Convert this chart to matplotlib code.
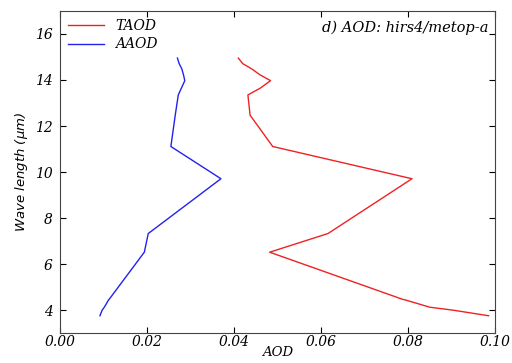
import matplotlib
matplotlib.use('Agg')
import matplotlib.pyplot as plt

# HIRS-4 channel wavelengths (um) and AOD values
wavelength = [14.95, 14.71, 14.49, 14.22, 13.97, 13.64, 13.35, 12.47, 11.11,
              9.71, 7.33, 6.52, 4.57, 4.52, 4.47, 4.45, 4.13, 4.00, 3.76]
taod = [0.0410, 0.0420, 0.0440, 0.0460, 0.0484, 0.0460, 0.0432, 0.0437, 0.0489,
        0.0809, 0.0616, 0.0482, 0.0773, 0.0780, 0.0788, 0.0793, 0.0850, 0.0904, 0.0985]
aaod = [0.0270, 0.0274, 0.0280, 0.0284, 0.0287, 0.0279, 0.0272, 0.0265, 0.0255,
        0.0370, 0.0203, 0.0194, 0.0117, 0.0115, 0.0113, 0.0112, 0.0102, 0.0097, 0.0092]

xticks = [0.00, 0.02, 0.04, 0.06, 0.08, 0.10]
yticks = [4, 6, 8, 10, 12, 14, 16]

fig = plt.figure(figsize=(5.12, 3.63), dpi=100)
ax = fig.add_axes([0.117, 0.082, 0.850, 0.888])

ax.plot(taod, wavelength, color='#ee2222', lw=1.0, label='TAOD')
ax.plot(aaod, wavelength, color='#2222ee', lw=1.0, label='AAOD')

ax.set_xlim(0, 0.10)
ax.set_ylim(3, 17)
ax.set_xticks(xticks)
ax.set_yticks(yticks)
ax.set_xticklabels(['%.2f' % v for v in xticks], family='DejaVu Serif', style='italic', fontsize=10)
ax.set_yticklabels([str(v) for v in yticks], family='DejaVu Serif', style='italic', fontsize=10)
ax.tick_params(axis='x', direction='in', top=True, length=4, pad=1)
ax.tick_params(axis='y', direction='in', right=True, length=4, pad=5)
for s in ax.spines.values():
    s.set_color('#444444')

ax.set_xlabel('AOD', family='DejaVu Serif', style='italic', fontsize=9.5, labelpad=-2)
ax.set_ylabel(r'Wave length ($\mu m$)', style='italic', fontsize=9.5, labelpad=4)

ax.text(0.985, 0.97, 'd) AOD: hirs4/metop-a', transform=ax.transAxes, ha='right', va='top',
        family='DejaVu Serif', style='italic', fontsize=10.5)

leg = ax.legend(loc='upper left', frameon=False, handlelength=2.6, borderaxespad=0.2,
                labelspacing=0.3, prop={'family': 'DejaVu Serif', 'style': 'italic', 'size': 10})

plt.savefig('out.png', dpi=100)
